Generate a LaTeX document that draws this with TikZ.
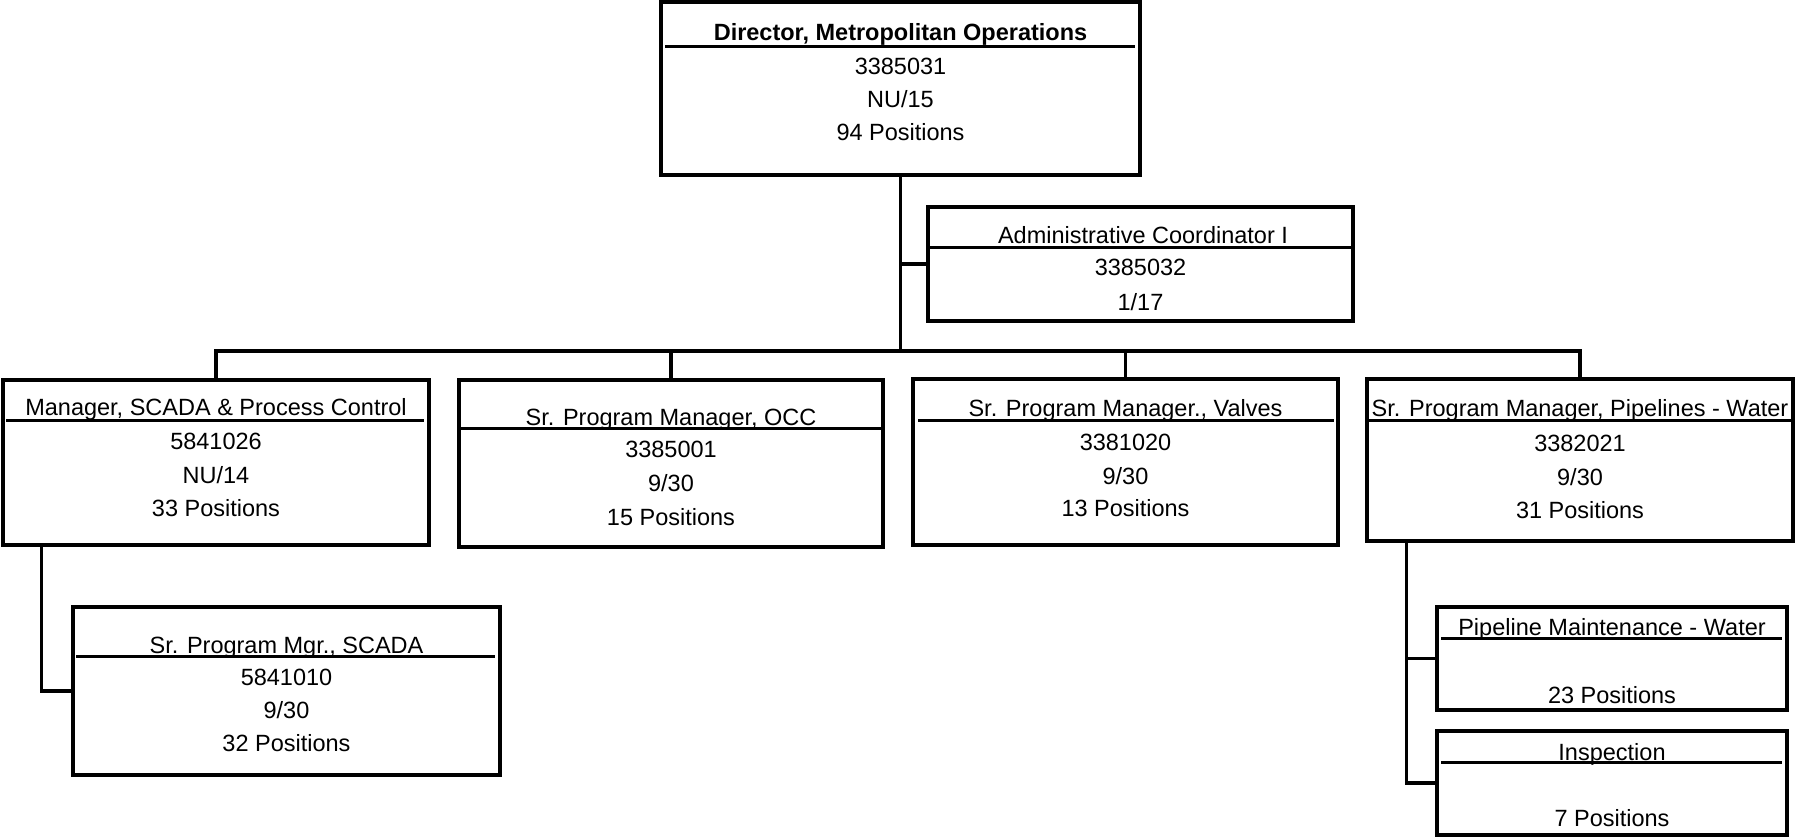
\documentclass[tikz,border=0pt]{standalone}
\usepackage{fontspec}
\setmainfont{Liberation Sans}
\usetikzlibrary{calc}
\begin{document}
\begin{tikzpicture}[x=1pt,y=-1pt,
  orgbox/.style={draw=black,line width=3.2pt,rectangle,inner sep=0pt},
  conn/.style={draw=black,line width=3.2pt},
  uline/.style={draw=black,line width=2.5pt},
  lbl/.style={anchor=base,inner sep=0pt,font=\fontsize{23.5}{33}\selectfont},
  blbl/.style={lbl,font=\fontsize{23.5}{33}\selectfont\bfseries}]
\useasboundingbox (0,0) rectangle (1795,837);

% boxes
\node[orgbox,minimum width=479pt,minimum height=173pt] (dir) at (900.5,88.5) {};
\node[orgbox,minimum width=425pt,minimum height=114pt] (adm) at (1140.5,264) {};
\node[orgbox,minimum width=426pt,minimum height=165pt] (m1) at (216,462.5) {};
\node[orgbox,minimum width=424pt,minimum height=167pt] (m2) at (671,463.5) {};
\node[orgbox,minimum width=425pt,minimum height=166pt] (m3) at (1125.5,462) {};
\node[orgbox,minimum width=426pt,minimum height=162pt] (m4) at (1580,460) {};
\node[orgbox,minimum width=427pt,minimum height=168pt] (s1) at (286.5,691) {};
\node[orgbox,minimum width=350pt,minimum height=103pt] (p1) at (1612,658.5) {};
\node[orgbox,minimum width=350pt,minimum height=104pt] (p2) at (1612,783) {};

% title rules
\draw[uline] ($(dir.north west)+(6,46)$) -- ($(dir.north east)+(-7,46)$);
\draw[uline] ($(adm.north west)+(0,42)$) -- ($(adm.north east)+(0,42)$);
\draw[uline] ($(m1.north west)+(5,42)$) -- ($(m1.north east)+(-7,42)$);
\draw[uline] ($(m2.north west)+(0,50)$) -- ($(m2.north east)+(0,50)$);
\draw[uline] ($(m3.north west)+(7,43)$) -- ($(m3.north east)+(-6,43)$);
\draw[uline] ($(m4.north west)+(3,43)$) -- ($(m4.north east)+(-3,43)$);
\draw[uline] ($(s1.north west)+(5,51)$) -- ($(s1.north east)+(-7,51)$);
\draw[uline] ($(p1.north west)+(6,33)$) -- ($(p1.north east)+(-7,33)$);
\draw[uline] ($(p2.north west)+(6,33)$) -- ($(p2.north east)+(-7,33)$);

% texts
\node[blbl] (dir-t) at (900.5,41) {Director, Metropolitan Operations};
\node[lbl] (dir-a) at (900.5,75) {3385031};
\node[lbl] (dir-b) at (900.5,108) {NU/15};
\node[lbl] (dir-c) at (900.5,141) {94 Positions};

\node[lbl] (adm-t) at (1143,243) {Administrative Coordinator I};
\node[lbl] (adm-a) at (1140.5,275) {3385032};
\node[lbl] (adm-b) at (1140.5,310) {1/17};

\node[lbl] (m1-t) at (216,415) {Manager, SCADA \& Process Control};
\node[lbl] (m1-a) at (216,449) {5841026};
\node[lbl] (m1-b) at (216,483) {NU/14};
\node[lbl] (m1-c) at (216,516) {33 Positions};

\node[lbl] (m2-t) at (671,425) {Sr. Program Manager, OCC};
\node[lbl] (m2-a) at (671,457) {3385001};
\node[lbl] (m2-b) at (671,491) {9/30};
\node[lbl] (m2-c) at (671,525) {15 Positions};

\node[lbl] (m3-t) at (1125.5,416) {Sr. Program Manager., Valves};
\node[lbl] (m3-a) at (1125.5,450) {3381020};
\node[lbl] (m3-b) at (1125.5,484) {9/30};
\node[lbl] (m3-c) at (1125.5,516) {13 Positions};

\node[lbl] (m4-t) at (1580,416) {Sr. Program Manager, Pipelines - Water};
\node[lbl] (m4-a) at (1580,451) {3382021};
\node[lbl] (m4-b) at (1580,485) {9/30};
\node[lbl] (m4-c) at (1580,518) {31 Positions};

\node[lbl] (s1-t) at (286.5,653) {Sr. Program Mgr., SCADA};
\node[lbl] (s1-a) at (286.5,685) {5841010};
\node[lbl] (s1-b) at (286.5,718) {9/30};
\node[lbl] (s1-c) at (286.5,751) {32 Positions};

\node[lbl] (p1-t) at (1612,635) {Pipeline Maintenance - Water};
\node[lbl] (p1-c) at (1612,703) {23 Positions};

\node[lbl] (p2-t) at (1612,760) {Inspection};
\node[lbl] (p2-c) at (1612,826) {7 Positions};

% connectors
\coordinate (bar) at (0,351);
\draw[conn] (dir.south) -- (dir.south |- bar);
\draw[conn] (adm.west) -- (adm.west -| dir.south);
\draw[conn] (m1.north) -- (m1.north |- bar) -- (m4.north |- bar) -- (m4.north);
\draw[conn] (m2.north) -- (m2.north |- bar);
\draw[conn] (m3.north) -- (m3.north |- bar);
\draw[conn] ([xshift=40pt]m1.south west) |- (s1.west);
\coordinate (m4d) at ([xshift=41pt]m4.south west);
\draw[conn] (m4d) |- (p2.west);
\draw[conn] (p1.west) -- (p1.west -| m4d);
\end{tikzpicture}
\end{document}
